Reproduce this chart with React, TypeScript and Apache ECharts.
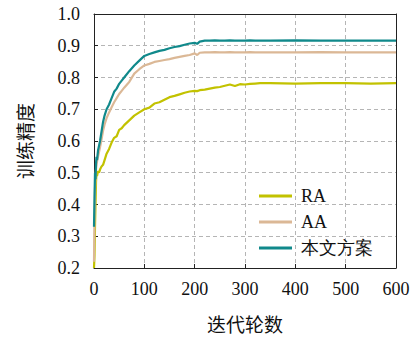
import React, { useEffect, useRef } from "react";
import * as echarts from "echarts";

const epochs = [0, 1, 2, 3, 4, 5, 6, 8, 10, 12, 15, 18, 21, 25, 30, 35, 40, 45, 50, 55, 60, 70, 80, 90, 100, 110, 120, 130, 140, 150, 160, 170, 180, 190, 200, 205, 210, 220, 230, 240, 250, 260, 270, 280, 290, 300, 310, 320, 330, 350, 400, 450, 500, 550, 600];

const raValues = [0.2, 0.24, 0.33, 0.33, 0.47, 0.5, 0.49, 0.505, 0.5, 0.51, 0.52, 0.525, 0.54, 0.56, 0.575, 0.595, 0.61, 0.615, 0.635, 0.64, 0.65, 0.665, 0.68, 0.69, 0.7, 0.705, 0.718, 0.722, 0.73, 0.738, 0.742, 0.747, 0.752, 0.756, 0.758, 0.757, 0.76, 0.762, 0.765, 0.768, 0.77, 0.774, 0.778, 0.773, 0.779, 0.778, 0.78, 0.781, 0.782, 0.782, 0.781, 0.782, 0.782, 0.781, 0.782];

const aaValues = [0.22, 0.35, 0.45, 0.49, 0.51, 0.525, 0.535, 0.55, 0.565, 0.58, 0.605, 0.632, 0.652, 0.672, 0.69, 0.706, 0.722, 0.735, 0.748, 0.758, 0.768, 0.786, 0.812, 0.826, 0.838, 0.843, 0.849, 0.852, 0.855, 0.858, 0.862, 0.865, 0.868, 0.871, 0.876, 0.871, 0.878, 0.879, 0.879, 0.88, 0.879, 0.879, 0.88, 0.879, 0.879, 0.879, 0.88, 0.879, 0.879, 0.879, 0.879, 0.88, 0.879, 0.879, 0.879];

const oursValues = [0.33, 0.42, 0.5, 0.48, 0.53, 0.55, 0.54, 0.57, 0.585, 0.6, 0.63, 0.66, 0.68, 0.7, 0.715, 0.735, 0.755, 0.765, 0.78, 0.79, 0.8, 0.82, 0.838, 0.853, 0.868, 0.874, 0.879, 0.884, 0.887, 0.892, 0.896, 0.899, 0.903, 0.907, 0.909, 0.906, 0.913, 0.916, 0.916, 0.917, 0.916, 0.916, 0.917, 0.916, 0.916, 0.916, 0.917, 0.916, 0.916, 0.916, 0.917, 0.916, 0.916, 0.916, 0.916];

const seriesNames = ["RA", "AA", "本文方案"];
const seriesColors = ["#c2c200", "#dbb896", "#10898b"];

const xTicks = { min: 0, max: 600, interval: 100 };
const yTicks = { min: 0.2, max: 1.0, interval: 0.1 };

const SERIF = "Liberation Serif";
const CJK = "Noto Sans CJK SC";

export default function App() {
  const ref = useRef<HTMLDivElement>(null);
  useEffect(() => {
    if (!ref.current) return;
    const chart = echarts.init(ref.current, undefined, { renderer: "svg" });
    const allValues = [raValues, aaValues, oursValues];
    chart.setOption({
      animation: false,
      backgroundColor: "#ffffff",
      textStyle: { fontFamily: SERIF },
      grid: { left: 94, right: 19, top: 14, bottom: 67, containLabel: false },
      legend: {
        orient: "vertical",
        left: 254,
        top: 181,
        icon: "rect",
        itemWidth: 33,
        itemHeight: 3,
        itemGap: 6,
        data: seriesNames,
        textStyle: { fontFamily: SERIF, fontSize: 18, color: "#111", lineHeight: 20, padding: [0, 0, 0, 4] },
      },
      xAxis: [
        {
          type: "value",
          min: xTicks.min,
          max: xTicks.max,
          interval: xTicks.interval,
          name: "迭代轮数",
          nameLocation: "middle",
          nameGap: 46,
          nameTextStyle: { fontFamily: CJK, fontSize: 19, color: "#111" },
          axisLine: { show: true, lineStyle: { color: "#222", width: 1 } },
          axisTick: { show: true, inside: true, length: 4, lineStyle: { color: "#222" } },
          axisLabel: { fontFamily: SERIF, fontSize: 18, color: "#111", margin: 12 },
          splitLine: { show: true, lineStyle: { type: [4, 3], color: "#b5b5b5", width: 1 } },
        },
        {
          type: "value",
          position: "top",
          min: xTicks.min,
          max: xTicks.max,
          axisLine: { show: true, onZero: false, lineStyle: { color: "#222", width: 1 } },
          axisTick: { show: false },
          axisLabel: { show: false },
          splitLine: { show: false },
        },
      ],
      yAxis: [
        {
          type: "value",
          min: yTicks.min,
          max: yTicks.max,
          interval: yTicks.interval,
          name: "训练精度",
          nameLocation: "middle",
          nameRotate: 90,
          nameGap: 60,
          nameTextStyle: { fontFamily: CJK, fontSize: 19, color: "#111" },
          axisLine: { show: true, onZero: false, lineStyle: { color: "#222", width: 1 } },
          axisTick: { show: true, inside: true, length: 4, lineStyle: { color: "#222" } },
          axisLabel: {
            fontFamily: SERIF,
            fontSize: 18,
            color: "#111",
            margin: 14,
            formatter: (v: number) => v.toFixed(1),
          },
          splitLine: { show: true, lineStyle: { type: [4, 3], color: "#b5b5b5", width: 1 } },
        },
        {
          type: "value",
          position: "right",
          min: yTicks.min,
          max: yTicks.max,
          axisLine: { show: true, onZero: false, lineStyle: { color: "#222", width: 1 } },
          axisTick: { show: false },
          axisLabel: { show: false },
          splitLine: { show: false },
        },
      ],
      series: seriesNames.map((name, i) => ({
        name,
        type: "line",
        xAxisIndex: 0,
        yAxisIndex: 0,
        showSymbol: false,
        symbol: "none",
        color: seriesColors[i],
        lineStyle: { color: seriesColors[i], width: 2.2 },
        data: epochs.map((e, j) => [e, allValues[i][j]]),
      })),
    });
    return () => chart.dispose();
  }, []);
  return <div ref={ref} style={{ width: 415, height: 338, position: "absolute", left: 0, top: 0 }} />;
}
